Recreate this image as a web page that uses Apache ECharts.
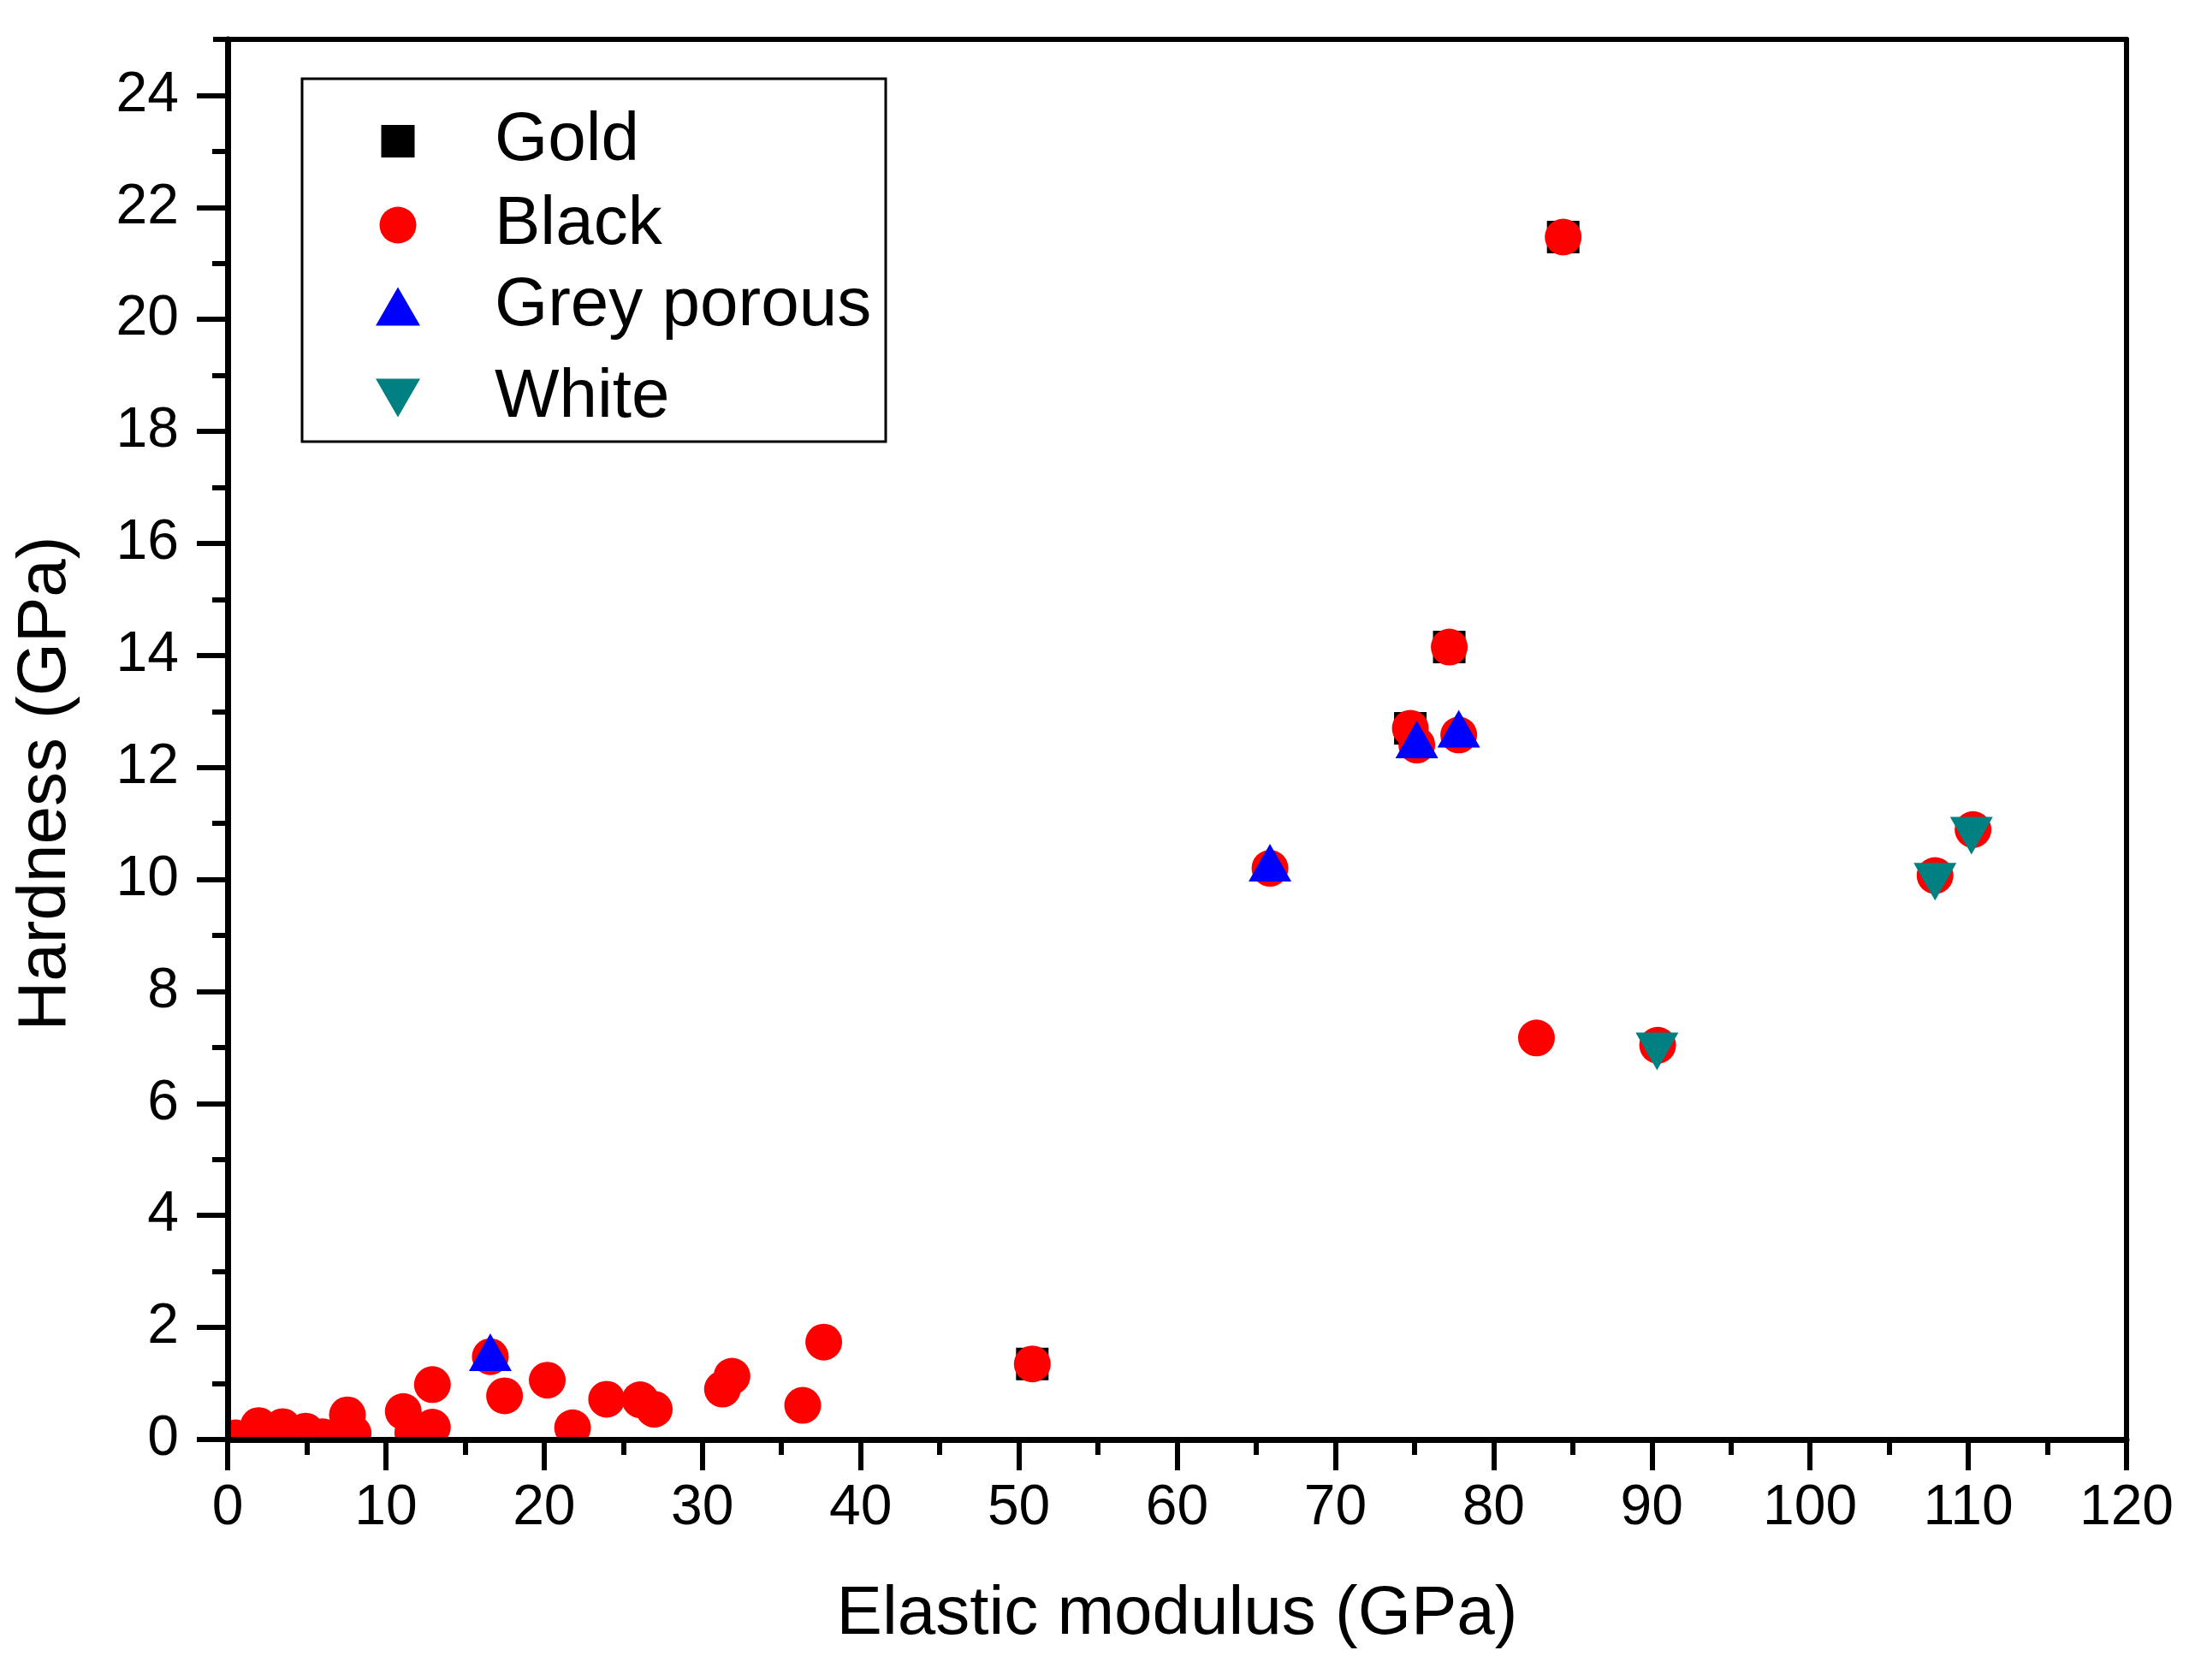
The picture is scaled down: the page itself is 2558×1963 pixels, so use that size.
<!DOCTYPE html>
<html>
<head>
<meta charset="utf-8">
<script src="https://cdn.jsdelivr.net/npm/echarts@6/dist/echarts.min.js"></script>
<style>
html,body{margin:0;padding:0;background:#fff;}
#chartmain{width:2558px;height:1963px;}
</style>
</head>
<body>
<div id="chartmain"></div>
<script>
// values, [elastic modulus, hardness] in GPa
var goldData = [[50.85,1.35],[74.74,12.70],[77.2,14.15],[84.4,21.47]];
var blackData = [
	[0.5,0.03],[1.96,0.25],[3.48,0.23],[4.93,0.15],[6.0,0.05],[7.57,0.44],[7.93,0.11],
	[11.1,0.50],[11.7,0.12],[12.94,0.98],[12.94,0.22],[16.6,1.48],[17.5,0.78],
	[20.2,1.06],[21.8,0.21],[23.95,0.72],[26.07,0.71],[26.96,0.54],[31.27,0.90],
	[31.87,1.13],[36.34,0.61],[37.67,1.74],[50.85,1.35],[65.87,10.20],[74.74,12.70],
	[75.15,12.40],[77.2,14.15],[77.8,12.58],[82.71,7.17],[84.4,21.47],[90.37,7.04],
	[107.9,10.07],[110.3,10.89]
];
var greyPorousData = [[16.6,1.56],[65.87,10.30],[75.15,12.50],[77.8,12.69]];
var whiteData = [[90.33,6.93],[107.9,9.96],[110.2,10.78]];

var seriesNames = ['Gold','Black','Grey porous','White'];
var xTicks = [0,10,20,30,40,50,60,70,80,90,100,110,120];
var yTicks = [0,2,4,6,8,10,12,14,16,18,20,22,24];

var FONT = '"Liberation Sans", Arial, sans-serif';
var DOWN_TRIANGLE = 'path://M0,0L52,0L26,45Z';

// one small legend per entry so each icon keeps its own size
function legendItem(name, top, w, h, icon){
	var item = {name:name};
	if(icon){ item.icon = icon; }
	return {
		data:[item],
		orient:'vertical',
		left:465 - w/2,
		top:top,
		padding:0,
		z:12,
		itemWidth:w,
		itemHeight:h,
		selectedMode:false,
		textStyle:{
			fontSize:80, lineHeight:80, color:'#000', fontFamily:FONT,
			padding:[0,0,0,108 - w/2]
		}
	};
}

function frameAxis(pos){
	return {
		type:'value', position:pos, min:0, max:pos=='top'?120:25, z:10,
		axisLine:{show:true, onZero:false, lineStyle:{color:'#000', width:6}},
		axisTick:{show:false}, axisLabel:{show:false}, splitLine:{show:false}
	};
}

var myChart = echarts.init(document.getElementById('chartmain'), null, {renderer:'canvas'});
var option = {
	backgroundColor:'#fff',
	animation:false,
	grid:{left:266, top:46, width:2219, height:1636, outerBoundsMode:'none', containLabel:false},
	legend:[
		legendItem('Gold', 125, 39, 38),
		legendItem('Black', 223, 43, 43),
		legendItem('Grey porous', 318, 52, 45),
		legendItem('White', 425, 52, 45, DOWN_TRIANGLE)
	],
	graphic:[
		// hide the parts of markers that fall outside the frame
		{type:'rect', silent:true, z:5, shape:{x:180, y:0, width:83, height:1700}, style:{fill:'#fff'}},
		{type:'rect', silent:true, z:5, shape:{x:180, y:1686, width:2320, height:30}, style:{fill:'#fff'}},
		{type:'line', silent:true, z:10, shape:{x1:249, y1:46, x2:266, y2:46}, style:{stroke:'#000', lineWidth:6}},
		{type:'rect', silent:true, z:10, shape:{x:353, y:92, width:682, height:424}, style:{fill:'none', stroke:'#000', lineWidth:3}}
	],
	xAxis:[{
		type:'value', min:0, max:120, interval:10, z:10,
		name:'Elastic modulus (GPa)', nameLocation:'middle', nameGap:165,
		nameTextStyle:{fontSize:80, color:'#000', fontFamily:FONT},
		axisLine:{show:true, onZero:false, lineStyle:{color:'#000', width:7}},
		axisTick:{show:true, customValues:xTicks, length:36, lineStyle:{color:'#000', width:6}},
		minorTick:{show:true, splitNumber:2, length:18, lineStyle:{color:'#000', width:6}},
		splitLine:{show:false},
		axisLabel:{customValues:xTicks, fontSize:66, color:'#000', margin:48, fontFamily:FONT}
	}, frameAxis('top')],
	yAxis:[{
		type:'value', min:0, max:25, interval:2, z:10,
		name:'Hardness (GPa)', nameLocation:'middle', nameGap:172,
		nameTextStyle:{fontSize:80, color:'#000', fontFamily:FONT, padding:[0,103,0,0]},
		axisLine:{show:true, onZero:false, lineStyle:{color:'#000', width:7}},
		axisTick:{show:true, customValues:yTicks, length:36, lineStyle:{color:'#000', width:6}},
		minorTick:{show:true, splitNumber:2, length:18, lineStyle:{color:'#000', width:6}},
		splitLine:{show:false},
		axisLabel:{customValues:yTicks, fontSize:66, color:'#000', margin:57, fontFamily:FONT}
	}, frameAxis('right')],
	series:[
		{name:seriesNames[0], type:'scatter', data:goldData, symbol:'rect', symbolSize:38, itemStyle:{color:'#000000', opacity:1}},
		{name:seriesNames[1], type:'scatter', data:blackData, symbol:'circle', symbolSize:43, itemStyle:{color:'#ff0000', opacity:1}},
		{name:seriesNames[2], type:'scatter', data:greyPorousData, symbol:'triangle', symbolSize:[50,44], itemStyle:{color:'#0000ff', opacity:1}},
		{name:seriesNames[3], type:'scatter', data:whiteData, symbol:'triangle', symbolRotate:180, symbolSize:[50,44], itemStyle:{color:'#008080', opacity:1}}
	]
};
myChart.setOption(option);
</script>
</body>
</html>
